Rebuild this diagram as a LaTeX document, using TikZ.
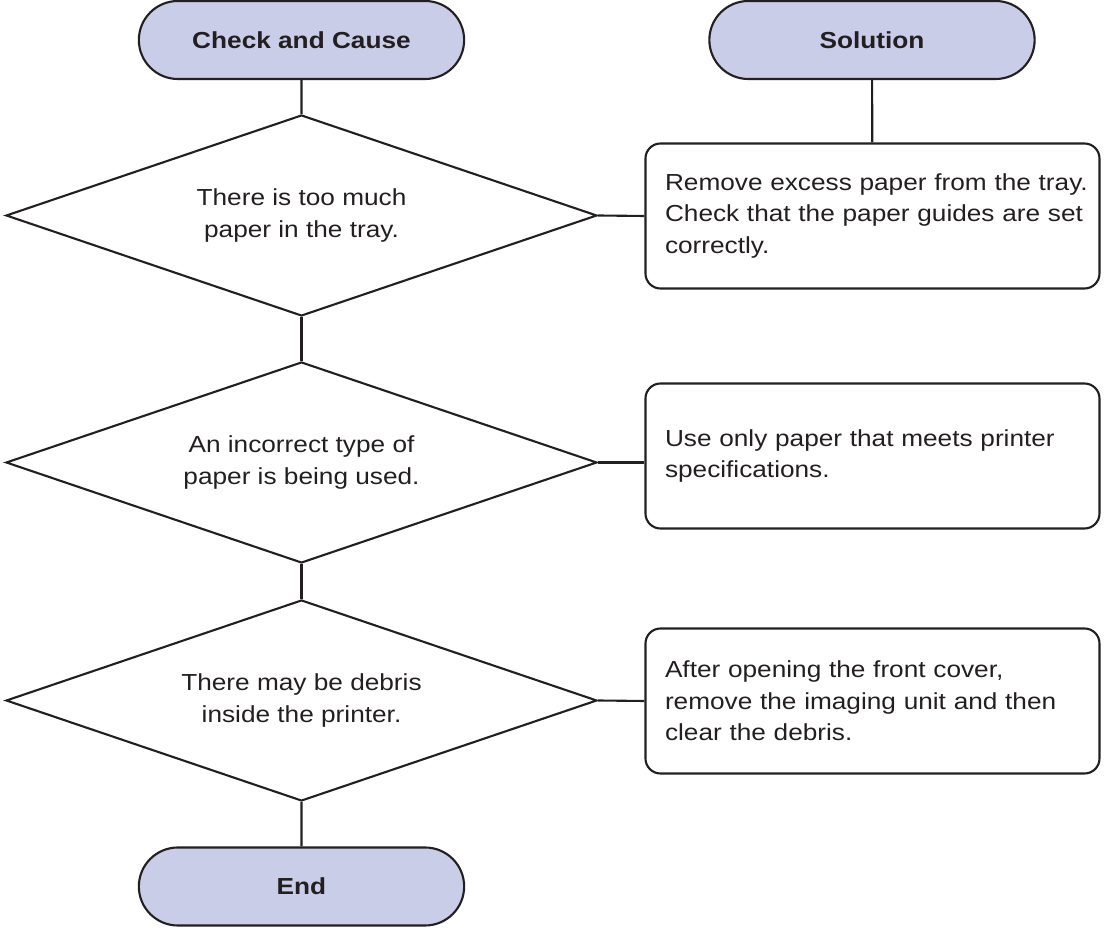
\documentclass[tikz,border=0pt]{standalone}
\usepackage{fontspec}
\setmainfont{Liberation Sans}[FakeStretch=1.13]
\usetikzlibrary{shapes.geometric,shapes.misc}
\definecolor{ink}{HTML}{231F20}
\definecolor{lav}{HTML}{C9CDE8}
\newcommand{\chartfont}{\fontsize{13.2}{17.9}\selectfont}
\tikzset{
    term/.style={rounded rectangle, draw=ink, fill=lav, line width=1.2pt,
        minimum width=6.74cm, minimum height=1.56cm, font=\chartfont\bfseries},
    cause/.style={diamond, draw=ink, line width=1.2pt, align=center, shape aspect=2.94,
        minimum width=11.82cm, minimum height=4.02cm, inner sep=0pt},
    fix/.style={rectangle, rounded corners=0.3cm, draw=ink, line width=1.2pt,
        text width=8.3cm, align=left, inner xsep=0.39cm, minimum height=2.9cm},
    link/.style={draw=ink, line width=1.2pt}
}

\begin{document}
\begin{tikzpicture}[every node/.append style={text=ink, font=\chartfont}]
        \useasboundingbox (0,0) rectangle (22.1,-18.66);
        % The two headings and the end.
            \node[term] (start) at (6.03,-0.80) {Check and Cause};
            \node[term] (sol) at (17.44,-0.80) {Solution};
            \node[term] (stop) at (6.03,-17.73) {End};
        % Below nodes are the causes.
            \node[cause] (d1) at (6.03,-4.31) {There is too much\\paper in the tray.};
            \node[cause] (d2) at (6.03,-9.25) {An incorrect type of\\paper is being used.};
            \node[cause] (d3) at (6.03,-14.01) {There may be debris\\inside the printer.};
        % Below nodes are the solutions.
            \node[fix] (b1) at (17.45,-4.32) {\mbox{Remove excess paper from the tray.}\\\mbox{Check that the paper guides are set}\\correctly.};
            \node[fix] (b2) at (17.45,-9.12) {Use only paper that meets printer\\specifications.};
            \node[fix] (b3) at (17.45,-14.02) {After opening the front cover,\\remove the imaging unit and then\\clear the debris.};
        % This draws the connecting lines.
            \draw[link] (start) -- (d1);
            \draw[link] (d1) -- (d2);
            \draw[link] (d2) -- (d3);
            \draw[link] (d3) -- (stop);
            \draw[link] (sol) -- (b1);
            \draw[link] (d1.east) -- (b1.west);
            \draw[link] (d2.east) -- (d2.east -| b2.west);
            \draw[link] (d3.east) -- (b3.west);
    \end{tikzpicture}
\end{document}
